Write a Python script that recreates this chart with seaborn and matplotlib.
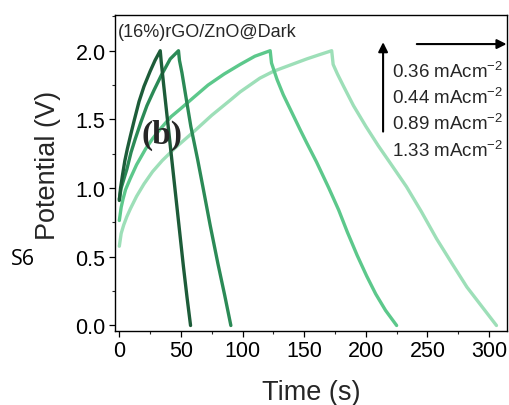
import numpy as np
import pandas as pd
import matplotlib
matplotlib.use("Agg")
import matplotlib.pyplot as plt
from matplotlib.ticker import MultipleLocator, FormatStrFormatter
import seaborn as sns

# Galvanostatic charge-discharge curves, (16%)rGO/ZnO in the dark
currents = ["0.36", "0.44", "0.89", "1.33"]          # mA cm^-2
colors = ["#9ddfb8", "#5cc88b", "#2b8a56", "#1d5c39"]

# 0.36 mA cm^-2
t_036 = [0, 1.5, 3.5, 6, 9, 14, 20, 27, 34.8, 45, 60.3, 75, 90, 98, 114, 125, 140, 152, 162, 172.3,
         173.5, 177, 182, 190, 200, 210, 220, 233, 245, 257.5, 270, 282, 294, 306]
v_036 = [0.577, 0.67, 0.73, 0.79, 0.85, 0.94, 1.03, 1.12, 1.20, 1.29, 1.41, 1.53, 1.64, 1.70, 1.80, 1.85, 1.90, 1.94, 1.97, 2.00,
         1.90, 1.83, 1.74, 1.60, 1.45, 1.31, 1.18, 1.01, 0.83, 0.63, 0.45, 0.28, 0.14, 0.00]

# 0.44 mA cm^-2
t_044 = [0, 1.5, 3, 5.1, 8.9, 14, 21.3, 27, 33.2, 42, 50, 60.3, 72, 85, 98, 110, 122.4,
         123.5, 128, 133, 140, 147, 152, 160, 170, 178, 185, 193, 200.7, 208, 216, 225]
v_044 = [0.764, 0.86, 0.92, 0.99, 1.07, 1.17, 1.285, 1.36, 1.43, 1.52, 1.58, 1.66, 1.75, 1.83, 1.90, 1.96, 2.00,
         1.91, 1.79, 1.68, 1.55, 1.42, 1.33, 1.19, 1.00, 0.84, 0.68, 0.51, 0.36, 0.23, 0.11, 0.00]

# 0.89 mA cm^-2
t_089 = [0, 1.5, 3.5, 6.2, 9.5, 13, 17.5, 22.4, 28, 34, 41.3, 48,
         48.8, 50.8, 54.3, 58, 63.5, 68, 73.7, 80, 85.5, 90.5]
v_089 = [0.92, 1.00, 1.06, 1.14, 1.26, 1.36, 1.48, 1.60, 1.71, 1.82, 1.94, 2.00,
         1.93, 1.84, 1.65, 1.45, 1.21, 1.00, 0.73, 0.45, 0.22, 0.00]

# 1.33 mA cm^-2
t_133 = [0, 1, 2.5, 4.5, 6.5, 9, 12, 16, 20, 25, 29, 33.2,
         34, 36, 40, 44, 48, 52, 55, 57.8]
v_133 = [0.91, 1.00, 1.09, 1.20, 1.285, 1.38, 1.49, 1.63, 1.74, 1.85, 1.93, 2.00,
         1.92, 1.75, 1.42, 1.09, 0.76, 0.43, 0.20, 0.00]

series = {"0.36": (t_036, v_036), "0.44": (t_044, v_044),
          "0.89": (t_089, v_089), "1.33": (t_133, v_133)}

frames = []
for j in currents:
    t, v = series[j]
    frames.append(pd.DataFrame({"Time": t, "Potential": v, "j": j}))
df = pd.concat(frames, ignore_index=True)

sns.set_style("ticks")
plt.rcParams["font.family"] = ["Liberation Sans", "DejaVu Sans"]
plt.rcParams["mathtext.fontset"] = "custom"
plt.rcParams["mathtext.rm"] = "Liberation Sans"
plt.rcParams["mathtext.it"] = "Liberation Sans:italic"
plt.rcParams["mathtext.bf"] = "Liberation Sans:bold"

fig = plt.figure(figsize=(5.10, 4.06), dpi=100)
ax = fig.add_axes([0.2255, 0.1823, 0.7685, 0.7783])

sns.lineplot(data=df, x="Time", y="Potential", hue="j", hue_order=currents,
             palette=dict(zip(currents, colors)), sort=False, estimator=None,
             units="j", lw=2.4, legend=False, ax=ax, solid_capstyle="round",
             solid_joinstyle="round")

ax.set_xlim(-3.5, 314.5)
ax.set_ylim(-0.04, 2.26)
ax.xaxis.set_major_locator(MultipleLocator(50))
ax.xaxis.set_minor_locator(MultipleLocator(25))
ax.yaxis.set_major_locator(MultipleLocator(0.5))
ax.yaxis.set_minor_locator(MultipleLocator(0.25))
ax.yaxis.set_major_formatter(FormatStrFormatter("%.1f"))

for s in ax.spines.values():
    s.set_linewidth(1.0)
    s.set_color("black")
ax.tick_params(which="major", direction="out", length=4.3, width=0.9, labelsize=15.5, pad=2.5,
               colors="black", top=False, right=False)
ax.tick_params(which="minor", direction="out", length=2.4, width=0.8, top=False, right=False)

ax.set_xlabel("Time (s)", fontsize=19.5)
ax.set_ylabel("Potential (V)", fontsize=19.5)
ax.xaxis.label.set_va("center")
ax.yaxis.label.set_va("center")
ax.xaxis.set_label_coords(0.5, -0.193)
ax.yaxis.set_label_coords(-0.172, 0.528)

ax.text(0.008, 0.949, "(16%)rGO/ZnO@Dark", transform=ax.transAxes, fontsize=13,
        ha="left", va="center")
ax.text(0.121, 0.623, "(b)", transform=ax.transAxes, fontsize=24, fontweight="bold",
        family=["Liberation Serif", "DejaVu Serif"], ha="center", va="center")

# current densities, smallest at the top
baselines = [0.803, 0.722, 0.639, 0.555]
for j, yb in zip(currents, baselines):
    ax.text(0.708, yb, j + r" mAcm$^{-2}$", transform=ax.transAxes, fontsize=13.5,
            ha="left", va="baseline")

arrow = dict(arrowstyle="-|>", lw=1.5, color="black", mutation_scale=14, shrinkA=0, shrinkB=0)
ax.annotate("", xy=(0.684, 0.914), xytext=(0.684, 0.631), xycoords="axes fraction", arrowprops=arrow)
ax.annotate("", xy=(0.999, 0.908), xytext=(0.770, 0.908), xycoords="axes fraction", arrowprops=arrow)

fig.text(0.044, 0.360, "S6", fontsize=15.5, family=["Open Sans", "DejaVu Sans"],
         ha="center", va="center", color="black")

fig.savefig("out.png", dpi=100)
